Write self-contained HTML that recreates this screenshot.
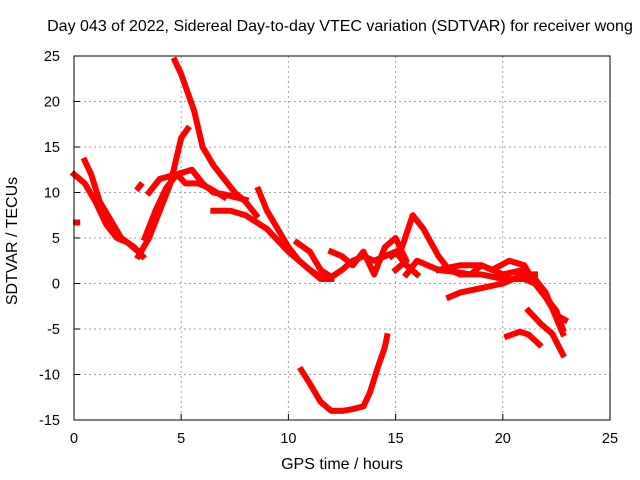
<!DOCTYPE html>
<html><head><meta charset="utf-8"><style>
body{margin:0;background:#fff}
svg{display:block;font-family:"Liberation Sans",sans-serif}
</style></head><body>
<svg id="c" width="640" height="480"></svg>
<script>
const xTicks=[0,5,10,15,20,25];
const yTicks=[-15,-10,-5,0,5,10,15,20,25];
const trackA=[[0.5,13.5],[0.8,12],[1.2,9],[1.7,7],[2.2,5],[2.8,4],[3.2,3]];
const trackA2=[[0,12],[0.5,11],[1,9],[1.5,6.5],[2,5],[2.5,4.5],[3,3.5]];
const trackB=[[3,3],[3.5,5],[4,8],[4.5,11],[4.8,14],[5,16],[5.3,17]];
const trackC=[[3.3,5],[3.8,8],[4.3,10.5],[4.8,12],[5.5,12.5],[6,11],[6.5,10],[7,9.8],[7.5,9.5],[8,9.2]];
const trackD=[[3.5,10],[4,11.5],[4.8,12],[5.2,11],[5.8,11],[6.3,10.5],[7,9.5]];
const trackE=[[4.7,24.5],[5,23],[5.3,21],[5.6,19],[6,15],[6.5,13],[7,11.5],[7.5,10],[8,9],[8.5,7.5]];
const trackF=[[6.5,8],[7.3,8],[8,7.5],[9,6],[10,3.5],[11,1.5],[11.5,0.5],[12,0.5]];
const trackG=[[8.6,10.3],[9,8],[9.5,6],[10,4],[10.5,2.5],[11,1.5],[11.5,0.7]];
const trackH=[[10.4,4.5],[11,3.5],[11.5,1.5],[12,0.7],[12.5,1.5],[13,2.5],[13.5,3],[14,2.5],[14.5,3],[15,3.5],[15.5,2],[16,1]];
const trackNoise=[[12,3.5],[12.5,3],[13,2],[13.5,3.5],[14,1],[14.5,4],[15,5],[15.5,2.5],[15,1.5]];
const trackI=[[14.8,3],[15.3,4],[15.8,7.5],[16.3,6],[17,3],[17.5,1.5],[18,1],[19,1],[20,0.5],[21,0.5],[21.5,0],[22,-1.5],[22.5,-3],[22.8,-5]];
const trackJ=[[15.5,1],[16,2.5],[17,1.5],[18,1.2],[18.5,1],[19,2],[20,1],[21,1.5],[21.5,0.5],[22,-1],[22.8,-5.5]];
const trackK=[[17,1.5],[18,2],[19,2],[19.5,1.5],[20.3,2.5],[21,2],[21.5,0],[22,-1.5],[22.5,-3.5],[22.9,-4]];
const trackL=[[17.5,-1.5],[18,-1],[19,-0.5],[20,0],[21,1],[21.5,1]];
const trackM=[[21.2,-3],[21.8,-4.5],[22.3,-5.5],[22.8,-7.8]];
const trackN=[[10.6,-9.5],[11,-11],[11.5,-13],[12,-14],[12.5,-14],[13,-13.8],[13.5,-13.5],[13.8,-12],[14.2,-9],[14.5,-7],[14.6,-5.8]];
const trackO=[[20.2,-5.8],[20.8,-5.3],[21.2,-5.6],[21.7,-6.7]];
const trackP=[[0.1,6.7],[0.15,6.7]];
const trackQ=[[3,10.5],[3.1,10.8]];
const tracks=[trackA,trackA2,trackB,trackC,trackD,trackE,trackF,trackG,trackH,trackNoise,trackI,trackJ,trackK,trackL,trackM,trackN,trackO,trackP,trackQ];

const L=74,R=610,T=56,B=420;
const sx=v=>L+(v-0)/(25-0)*(R-L);
const sy=v=>B-(v+15)/(40)*(B-T);
const svg=document.getElementById('c');
const NS='http://www.w3.org/2000/svg';
function mk(t,a){const e=document.createElementNS(NS,t);for(const k in a)e.setAttribute(k,a[k]);svg.appendChild(e);return e;}
xTicks.forEach(v=>{
  if(v>0&&v<25){const g=mk('line',{x1:sx(v),x2:sx(v),y1:T,y2:B,stroke:'#a0a0a0','stroke-dasharray':'2,3'});
  
  }
  const t=mk('line',{x1:sx(v),x2:sx(v),y1:B,y2:B-6,stroke:'#000'});
  
  
  const l=mk('text',{x:sx(v),y:B+23,'text-anchor':'middle','font-size':14.5});l.textContent=v;
  
  
});
yTicks.forEach(v=>{
  if(v>-15&&v<25){const g=mk('line',{x1:L,x2:R,y1:sy(v),y2:sy(v),stroke:'#a0a0a0','stroke-dasharray':'2,3'});
  
  }
  const t=mk('line',{x1:L,x2:L+6,y1:sy(v),y2:sy(v),stroke:'#000'});
  
  
  const l=mk('text',{x:L-14,y:sy(v)+5,'text-anchor':'end','font-size':14.5});l.textContent=v;
  
  
});
tracks.forEach(tr=>{
  const p=mk('polyline',{points:tr.map(d=>sx(d[0])+','+sy(d[1])).join(' '),fill:'none',stroke:'#ff0000','stroke-width':6,'stroke-linejoin':'round','stroke-linecap':'square'});
  
  
});
const fr=mk('rect',{x:L,y:T,width:R-L,height:B-T,fill:'none',stroke:'#000'});


</script>
<div style="position:absolute;left:0;top:0;width:640px;height:480px;pointer-events:none;font-family:'Liberation Sans',sans-serif">
<div style="position:absolute;left:0;width:680px;top:18px;text-align:center;font-size:16px;white-space:nowrap">Day 043 of 2022, Sidereal Day-to-day VTEC variation (SDTVAR) for receiver wong</div>
<div style="position:absolute;left:74px;width:536px;top:456px;text-align:center;font-size:16px">GPS time / hours</div>
<div style="position:absolute;left:-57px;top:232px;width:140px;text-align:center;font-size:16px;transform:rotate(-90deg);white-space:nowrap">SDTVAR / TECUs</div>
</div>
</body></html>
